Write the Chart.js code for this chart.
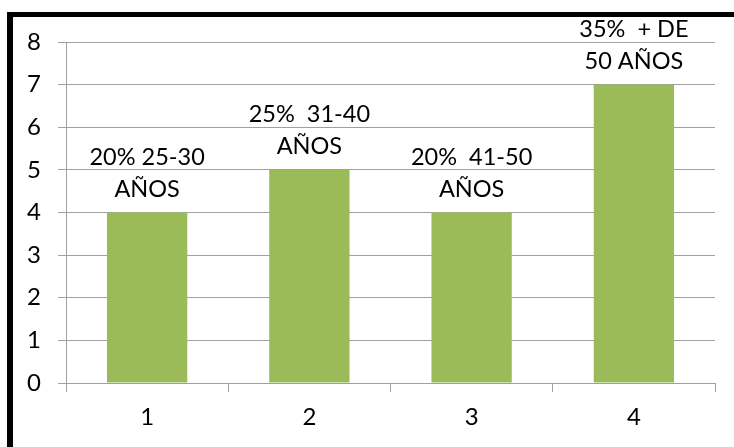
<!DOCTYPE html>
<html>
<head>
<meta charset="utf-8">
<script src="https://cdn.jsdelivr.net/npm/chart.js@4/dist/chart.umd.min.js"></script>
<style>
  html,body{margin:0;padding:0;background:#fff;}
  #wrap{position:relative;width:734px;height:447px;overflow:hidden;}
  #frame{position:absolute;left:7px;top:12px;width:760px;height:480px;border-left:6px solid #000;border-top:5px solid #000;box-sizing:border-box;}
  canvas{position:absolute;left:0;top:0;}
</style>
</head>
<body>
<div id="wrap">
  <canvas id="c" width="734" height="447"></canvas>
  <div id="frame"></div>
</div>
<script>
const categories = ['1', '2', '3', '4'];
const values = [4, 5, 4, 7];
const barLabels = [
  ['20% 25-30', 'AÑOS'],
  ['25%  31-40', 'AÑOS'],
  ['20%  41-50', 'AÑOS'],
  ['35%  + DE', '50 AÑOS']
];
const yTicks = [0, 1, 2, 3, 4, 5, 6, 7, 8];

const labelPlugin = {
  id: 'barLabels',
  afterDatasetsDraw(chart) {
    const ctx = chart.ctx;
    const meta = chart.getDatasetMeta(0);
    ctx.save();
    ctx.font = '23.5px Lato';
    ctx.fillStyle = '#000';
    ctx.textAlign = 'center';
    ctx.textBaseline = 'middle';
    meta.data.forEach((bar, i) => {
      const lines = barLabels[i];
      ctx.fillText(lines[0], bar.x, bar.y - 55);
      ctx.fillText(lines[1], bar.x, bar.y - 23);
    });
    ctx.restore();
  }
};

new Chart(document.getElementById('c'), {
  type: 'bar',
  data: {
    labels: categories,
    datasets: [{
      data: values,
      backgroundColor: '#9BBB59',
      borderWidth: 0,
      categoryPercentage: 1,
      barPercentage: 0.495
    }]
  },
  options: {
    responsive: false,
    animation: false,
    events: [],
    layout: { padding: { top: 42, right: 19, left: 0, bottom: 0 } },
    plugins: { legend: { display: false }, tooltip: { enabled: false } },
    scales: {
      x: {
        offset: true,
        grid: { offset: true, drawOnChartArea: false, drawTicks: true, tickLength: 9, color: '#a0a0a0', lineWidth: 1 },
        border: { color: '#a0a0a0', width: 1 },
        ticks: { color: '#000', font: { family: 'Lato', size: 24 }, padding: 11 },
        afterFit(s) { s.height = 64; }
      },
      y: {
        min: 0, max: 8,
        afterBuildTicks(s) { s.ticks = yTicks.map(v => ({ value: v })); },
        grid: { color: '#a0a0a0', lineWidth: 1, tickLength: 8 },
        border: { color: '#a0a0a0', width: 1 },
        ticks: { color: '#000', font: { family: 'Lato', size: 24 }, padding: 17 },
        afterFit(s) { s.width = 66; }
      }
    }
  },
  plugins: [labelPlugin]
});
</script>
</body>
</html>
